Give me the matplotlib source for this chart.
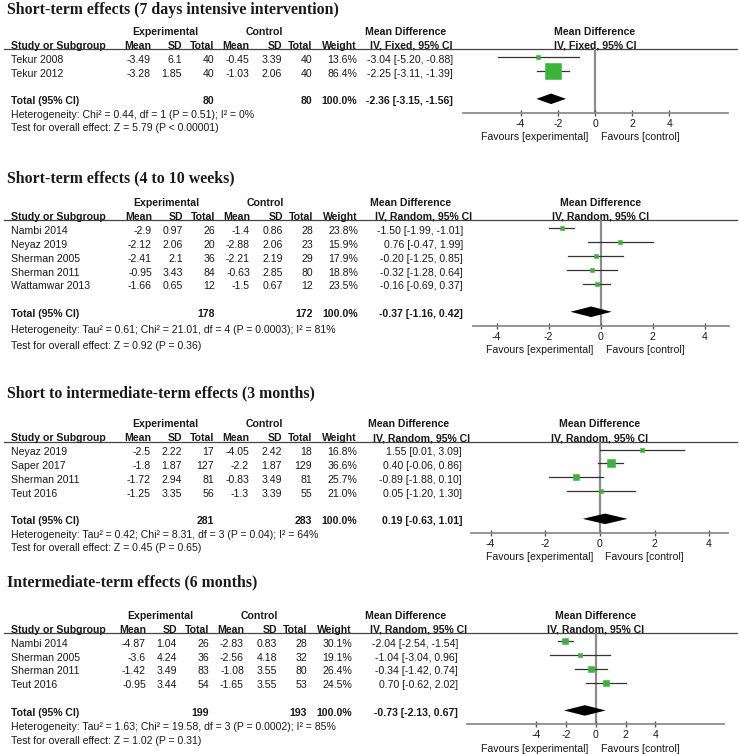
import matplotlib.pyplot as plt
import matplotlib.transforms as mtransforms

plt.rcParams['font.family'] = ['Liberation Sans', 'DejaVu Sans']

# ---- values ----
# Short-term effects (7 days intensive intervention)
st7_study = ['Tekur 2008', 'Tekur 2012']
st7_exp_mean = [-3.49, -3.28]
st7_exp_sd = [6.1, 1.85]
st7_exp_n = [40, 40]
st7_ctl_mean = [-0.45, -1.03]
st7_ctl_sd = [3.39, 2.06]
st7_ctl_n = [40, 40]
st7_weight = [13.6, 86.4]
st7_md = [-3.04, -2.25]
st7_lo = [-5.20, -3.11]
st7_hi = [-0.88, -1.39]
st7_total = [80, 80]
st7_pooled = [-2.36, -3.15, -1.56]

# Short-term effects (4 to 10 weeks)
st10_study = ['Nambi 2014', 'Neyaz 2019', 'Sherman 2005', 'Sherman 2011', 'Wattamwar 2013']
st10_exp_mean = [-2.9, -2.12, -2.41, -0.95, -1.66]
st10_exp_sd = [0.97, 2.06, 2.1, 3.43, 0.65]
st10_exp_n = [26, 20, 36, 84, 12]
st10_ctl_mean = [-1.4, -2.88, -2.21, -0.63, -1.5]
st10_ctl_sd = [0.86, 2.06, 2.19, 2.85, 0.67]
st10_ctl_n = [28, 23, 29, 80, 12]
st10_weight = [23.8, 15.9, 17.9, 18.8, 23.5]
st10_md = [-1.50, 0.76, -0.20, -0.32, -0.16]
st10_lo = [-1.99, -0.47, -1.25, -1.28, -0.69]
st10_hi = [-1.01, 1.99, 0.85, 0.64, 0.37]
st10_total = [178, 172]
st10_pooled = [-0.37, -1.16, 0.42]

# Short to intermediate-term effects (3 months)
m3_study = ['Neyaz 2019', 'Saper 2017', 'Sherman 2011', 'Teut 2016']
m3_exp_mean = [-2.5, -1.8, -1.72, -1.25]
m3_exp_sd = [2.22, 1.87, 2.94, 3.35]
m3_exp_n = [17, 127, 81, 56]
m3_ctl_mean = [-4.05, -2.2, -0.83, -1.3]
m3_ctl_sd = [2.42, 1.87, 3.49, 3.39]
m3_ctl_n = [18, 129, 81, 55]
m3_weight = [16.8, 36.6, 25.7, 21.0]
m3_md = [1.55, 0.40, -0.89, 0.05]
m3_lo = [0.01, -0.06, -1.88, -1.20]
m3_hi = [3.09, 0.86, 0.10, 1.30]
m3_total = [281, 283]
m3_pooled = [0.19, -0.63, 1.01]

# Intermediate-term effects (6 months)
m6_study = ['Nambi 2014', 'Sherman 2005', 'Sherman 2011', 'Teut 2016']
m6_exp_mean = [-4.87, -3.6, -1.42, -0.95]
m6_exp_sd = [1.04, 4.24, 3.49, 3.44]
m6_exp_n = [26, 36, 83, 54]
m6_ctl_mean = [-2.83, -2.56, -1.08, -1.65]
m6_ctl_sd = [0.83, 4.18, 3.55, 3.55]
m6_ctl_n = [28, 32, 80, 53]
m6_weight = [30.1, 19.1, 26.4, 24.5]
m6_md = [-2.04, -1.04, -0.34, 0.70]
m6_lo = [-2.54, -3.04, -1.42, -0.62]
m6_hi = [-1.54, 0.96, 0.74, 2.02]
m6_total = [199, 193]
m6_pooled = [-0.73, -2.13, 0.67]

titles = ['Short-term effects (7 days intensive intervention)',
          'Short-term effects (4 to 10 weeks)',
          'Short to intermediate-term effects (3 months)',
          'Intermediate-term effects (6 months)']
models = ['Fixed', 'Random', 'Random', 'Random']
hetero = ['Heterogeneity: Chi\u00b2 = 0.44, df = 1 (P = 0.51); I\u00b2 = 0%',
          'Heterogeneity: Tau\u00b2 = 0.61; Chi\u00b2 = 21.01, df = 4 (P = 0.0003); I\u00b2 = 81%',
          'Heterogeneity: Tau\u00b2 = 0.42; Chi\u00b2 = 8.31, df = 3 (P = 0.04); I\u00b2 = 64%',
          'Heterogeneity: Tau\u00b2 = 1.63; Chi\u00b2 = 19.58, df = 3 (P = 0.0002); I\u00b2 = 85%']
overall = ['Test for overall effect: Z = 5.79 (P < 0.00001)',
           'Test for overall effect: Z = 0.92 (P = 0.36)',
           'Test for overall effect: Z = 0.45 (P = 0.65)',
           'Test for overall effect: Z = 1.02 (P = 0.31)']
xticks = [-4, -2, 0, 2, 4]

data = [
    (st7_study, st7_exp_mean, st7_exp_sd, st7_exp_n, st7_ctl_mean, st7_ctl_sd, st7_ctl_n,
     st7_weight, st7_md, st7_lo, st7_hi, st7_total, st7_pooled),
    (st10_study, st10_exp_mean, st10_exp_sd, st10_exp_n, st10_ctl_mean, st10_ctl_sd, st10_ctl_n,
     st10_weight, st10_md, st10_lo, st10_hi, st10_total, st10_pooled),
    (m3_study, m3_exp_mean, m3_exp_sd, m3_exp_n, m3_ctl_mean, m3_ctl_sd, m3_ctl_n,
     m3_weight, m3_md, m3_lo, m3_hi, m3_total, m3_pooled),
    (m6_study, m6_exp_mean, m6_exp_sd, m6_exp_n, m6_ctl_mean, m6_ctl_sd, m6_ctl_n,
     m6_weight, m6_md, m6_lo, m6_hi, m6_total, m6_pooled),
]

# layout in pixels (figure is 740 x 754)
W, H = 740, 754
title_y = [10.5, 178.3, 393.3, 582.7]
line_y = [49.3, 220.3, 441.7, 633.3]
axis_y = [112.7, 325.7, 532.7, 724.3]
forest_x = [(462.7, 727.7), (472.7, 729.0), (471.0, 728.0), (467.3, 724.3)]
forest_lim = [(-7.11, 7.13), (-4.92, 4.93), (-4.72, 4.69), (-8.62, 8.63)]
col_shift = [0, 1, 0, -5]
md_right = [453, 463, 462, 458]
md_left = [365, 370, 368, 365]
cols = [151, 182, 214, 249, 282, 312, 357]
stat_gap = [1.0, 1.15, 1.0, 1.05]

FS = 7.6
TXT = '#1a1a1a'
GREEN = '#3cb43c'
GREY = '#8c8c8c'

fig = plt.figure(figsize=(W / 100, H / 100), dpi=100)
bg = fig.add_axes([0, 0, 1, 1])
bg.set_xlim(0, W)
bg.set_ylim(H, 0)
bg.axis('off')

for k, d in enumerate(data):
    (study, em, esd, en, cm, csd, cn, wt, md, lo, hi, tot, pooled) = d
    n = len(study)
    x0, x1 = forest_x[k]
    ly, ay = line_y[k], axis_y[k]
    sh = col_shift[k]
    c = [v + sh for v in cols]

    # forest plot axes
    fax = fig.add_axes([x0 / W, 1 - ay / H, (x1 - x0) / W, (ay - ly) / H])
    fax.set_xlim(*forest_lim[k])
    fax.set_ylim(n + 2, -0.57)
    fax.patch.set_alpha(0)
    for s in ['top', 'left', 'right']:
        fax.spines[s].set_visible(False)
    fax.spines['bottom'].set_color(GREY)
    fax.spines['bottom'].set_linewidth(1.3)
    fax.set_yticks([])
    fax.set_xticks(xticks)
    fax.set_xticklabels([f'{t:g}' for t in xticks])
    fax.tick_params(axis='x', direction='inout', length=4, width=1, color='#555555',
                    labelsize=FS, pad=2.2, labelcolor=TXT)
    fax.axvline(0, color=GREY, lw=1.6, zorder=1)
    for i in range(n):
        fax.plot([lo[i], hi[i]], [i, i], color='#333333', lw=0.9, zorder=2)
        side = max(3.5, 0.165 * wt[i] + 1.0) * 0.72
        fax.plot(md[i], i, marker='s', ms=side, mfc=GREEN, mec=GREEN, mew=0.4, zorder=3)
    t = n + 1
    pm, plo, phi = pooled
    fax.fill([plo, pm, phi, pm], [t, t - 0.38, t, t + 0.38], color='black', lw=0, zorder=3)

    fax.annotate('Favours [experimental]', xy=(0, 0), xycoords=('data', 'axes fraction'),
                 xytext=(-5, -17.5), textcoords='offset points', ha='right', va='center',
                 fontsize=FS, color=TXT, annotation_clip=False)
    fax.annotate('Favours [control]', xy=(0, 0), xycoords=('data', 'axes fraction'),
                 xytext=(4, -17.5), textcoords='offset points', ha='left', va='center',
                 fontsize=FS, color=TXT, annotation_clip=False)
    fax.annotate('Mean Difference', xy=(0, 1), xycoords=('data', 'axes fraction'),
                 xytext=(0, 12.6), textcoords='offset points', ha='center', va='center',
                 fontsize=FS, fontweight='bold', color=TXT, annotation_clip=False)
    fax.annotate(f'IV, {models[k]}, 95% CI', xy=(0, 1), xycoords=('data', 'axes fraction'),
                 xytext=(0, 2.5), textcoords='offset points', ha='center', va='center',
                 fontsize=FS, fontweight='bold', color=TXT, annotation_clip=False)

    # title and table headers
    bg.text(7, title_y[k], titles[k], family='Liberation Serif', fontweight='bold',
            fontsize=11.4, ha='left', va='center', color=TXT)
    h1, h2 = ly - 17.5, ly - 3.5
    hk = dict(fontsize=FS, fontweight='bold', va='center', color=TXT)
    bg.text((c[0] + c[2]) / 2 - 17, h1, 'Experimental', ha='center', **hk)
    bg.text((c[3] + c[5]) / 2 - 16, h1, 'Control', ha='center', **hk)
    bg.text(md_left[k], h1, 'Mean Difference', ha='left', **hk)
    bg.text(11, h2, 'Study or Subgroup', ha='left', **hk)
    for x, lab in zip(c, ['Mean', 'SD', 'Total', 'Mean', 'SD', 'Total', 'Weight']):
        bg.text(x, h2, lab, ha='right', **hk)
    bg.text(md_left[k] + 5, h2, f'IV, {models[k]}, 95% CI', ha='left', **hk)
    bg.plot([4, 737], [ly, ly], color='#444444', lw=0.9)

    # table rows (x in pixels, y in forest rows)
    tr = mtransforms.offset_copy(
        mtransforms.blended_transform_factory(bg.transData, fax.transData),
        fig=fig, y=-2.5, units='dots')
    rk = dict(fontsize=FS, va='center', color=TXT, transform=tr)
    for i in range(n):
        bg.text(11, i, study[i], ha='left', **rk)
        vals = [f'{em[i]:g}', f'{esd[i]:g}', f'{en[i]}', f'{cm[i]:g}', f'{csd[i]:g}',
                f'{cn[i]}', f'{wt[i]:.1f}%']
        for x, v in zip(c, vals):
            bg.text(x, i, v, ha='right', **rk)
        bg.text(md_right[k], i, f'{md[i]:.2f} [{lo[i]:.2f}, {hi[i]:.2f}]', ha='right', **rk)
    bg.text(11, t, 'Total (95% CI)', ha='left', fontweight='bold', **rk)
    bg.text(c[2], t, f'{tot[0]}', ha='right', fontweight='bold', **rk)
    bg.text(c[5], t, f'{tot[1]}', ha='right', fontweight='bold', **rk)
    bg.text(c[6], t, '100.0%', ha='right', fontweight='bold', **rk)
    bg.text(md_right[k], t, f'{pm:.2f} [{plo:.2f}, {phi:.2f}]', ha='right',
            fontweight='bold', **rk)
    g = stat_gap[k]
    bg.text(11, t + g, hetero[k], ha='left', **rk)
    bg.text(11, t + 2 * g - 0.05, overall[k], ha='left', **rk)

fig.savefig('out.png', dpi=100)
